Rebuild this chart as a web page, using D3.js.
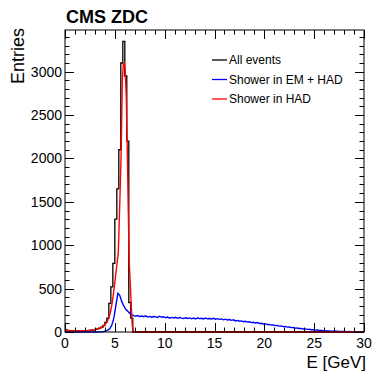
<!DOCTYPE html>
<html>
<head>
<meta charset="utf-8">
<script src="https://cdn.jsdelivr.net/npm/d3@7"></script>
<style>
  html, body { margin: 0; padding: 0; background: #fff; }
  svg { display: block; font-family: 'Liberation Sans', Arial, sans-serif; }
</style>
</head>
<body>
<div id="chart"></div>
<script>
// ── data ────────────────────────────────────────────────
const BIN_ALL = 0.2;   // GeV, black histogram
const BIN_HAD = 0.1;   // GeV, red
const BIN_EMH = 0.2;   // GeV, blue

// all events, 0 – 7 GeV, zero above
const allEvents = [
  25, 18, 14, 12, 12, 12, 12, 13, 13, 14,
  15, 16, 18, 21, 25, 30, 36, 44, 55, 75,
  110, 160, 330, 520, 790, 1300, 1650, 2100, 3100, 3350,
  2950, 2200, 340, 160, 0
];

// shower in HAD, 0 – 7 GeV, zero above
const showerHad = [
  38, 24, 18, 15, 14, 13, 12, 12, 12, 12,
  12, 12, 12, 13, 13, 13, 14, 14, 15, 15,
  16, 16, 17, 18, 19, 20, 22, 24, 26, 28,
  30, 33, 36, 40, 44, 48, 53, 60, 68, 78,
  90, 105, 125, 150, 180, 225, 280, 350, 430, 520,
  620, 720, 820, 920, 1300, 1700, 2150, 2900, 3080, 3100,
  3000, 2700, 2100, 1400, 800, 550, 300, 80, 0, 0
];

// shower in EM + HAD, 0 – 30 GeV
const showerEmHad = [
  0, 0, 0, 0, 0, 0, 0, 0, 0, 0,
  0, 0, 0, 0, 0, 0, 0,
  1, 3, 6, 12, 22, 40, 80, 160, 300, 445, 420, 350, 300, 262, 238, 215, 200, 188,
  182, 190, 178, 184, 176, 186, 172, 180, 170, 178, 174, 168, 182, 170, 176,
  164, 172, 160, 168, 162, 170, 158, 166, 160, 155,
  164, 156, 162, 152, 160, 150, 164, 154, 158, 150,
  160, 152, 156, 150, 158, 148, 154, 146, 150, 140,
  148, 138, 144, 134, 140, 128, 134, 124, 128, 118,
  124, 114, 118, 108, 112, 104, 110, 98, 100, 92,
  94, 86, 88, 80, 82, 74, 76, 68, 70, 62,
  64, 56, 58, 50, 52, 45, 46, 40, 41, 35,
  36, 30, 31, 26, 27, 22, 23, 18, 19, 15,
  16, 12, 13, 10, 10, 8, 8, 6, 7, 5,
  5, 4, 5, 3, 4, 3, 2, 3, 2, 2
];

const xTicks = [0, 5, 10, 15, 20, 25, 30];
const yTicks = [0, 500, 1000, 1500, 2000, 2500, 3000];

const legendItems = [
  { label: 'All events',         color: '#000000' },
  { label: 'Shower in EM + HAD', color: '#0000ff' },
  { label: 'Shower in HAD',      color: '#ff0000' }
];

// ── layout ──────────────────────────────────────────────
const W = 372, H = 374;
const M = { left: 65, right: 8, top: 30, bottom: 42 };
const E_MAX = 30;

const svg = d3.select('#chart').append('svg')
  .attr('width', W).attr('height', H);

const x = d3.scaleLinear().domain([0, E_MAX]).range([M.left, W - M.right]);
const y = d3.scaleLinear().domain([0, 3480]).range([H - M.bottom, M.top]);

// pad a histogram with empty bins up to E_MAX
function padBins(vals, bw) {
  const n = Math.round(E_MAX / bw);
  return d3.range(n).map(i => (i < vals.length ? vals[i] : 0));
}

const plot = svg.append('g');

// black: step outline
const allBins = padBins(allEvents, BIN_ALL);
const allPts = allBins.map((v, i) => [i * BIN_ALL, v]);
allPts.push([E_MAX, allBins[allBins.length - 1]]);
plot.append('path')
  .attr('d', d3.line().x(d => x(d[0])).y(d => y(d[1])).curve(d3.curveStepAfter)(allPts))
  .attr('fill', 'none').attr('stroke', '#000').attr('stroke-width', 1.3);

// blue / red: polyline through bin centres
function centreLine(vals, bw) {
  const pts = padBins(vals, bw).map((v, i) => [(i + 0.5) * bw, v]);
  return d3.line().x(d => x(d[0])).y(d => y(d[1]))(pts);
}
plot.append('path')
  .attr('d', centreLine(showerEmHad, BIN_EMH))
  .attr('fill', 'none').attr('stroke', '#0000ff').attr('stroke-width', 1.4);
plot.append('path')
  .attr('d', centreLine(showerHad, BIN_HAD))
  .attr('fill', 'none').attr('stroke', '#ff0000').attr('stroke-width', 1.4);

// ── frame + ROOT style ticks ────────────────────────────
const x0 = M.left, x1 = W - M.right, y0 = H - M.bottom, y1 = M.top;
svg.append('rect')
  .attr('x', x0).attr('y', y1).attr('width', x1 - x0).attr('height', y0 - y1)
  .attr('fill', 'none').attr('stroke', '#000').attr('stroke-width', 1);

const ticksG = svg.append('g').attr('stroke', '#000').attr('stroke-width', 1);
const MAJ = 9, MIN = 4.5;
d3.range(0, E_MAX + 0.001, 1).forEach(v => {
  const L = v % 5 === 0 ? MAJ : MIN;
  const px = Math.round(x(v)) + 0.5;
  ticksG.append('line').attr('x1', px).attr('x2', px).attr('y1', y0).attr('y2', y0 - L);
  ticksG.append('line').attr('x1', px).attr('x2', px).attr('y1', y1).attr('y2', y1 + L);
});
d3.range(0, 3401, 100).forEach(v => {
  const L = v % 500 === 0 ? MAJ : MIN;
  const py = Math.round(y(v)) + 0.5;
  ticksG.append('line').attr('y1', py).attr('y2', py).attr('x1', x0).attr('x2', x0 + L);
  ticksG.append('line').attr('y1', py).attr('y2', py).attr('x1', x1).attr('x2', x1 - L);
});

// tick labels
svg.append('g').selectAll('text').data(xTicks).join('text')
  .attr('x', d => x(d)).attr('y', y0 + 16)
  .attr('text-anchor', 'middle').attr('font-size', 14).attr('fill', '#000')
  .text(d => d);
svg.append('g').selectAll('text').data(yTicks).join('text')
  .attr('x', x0 - 3).attr('y', d => y(d) + 5)
  .attr('text-anchor', 'end').attr('font-size', 14).attr('fill', '#000')
  .text(d => d);

// axis titles
svg.append('text')
  .attr('x', x1 + 2).attr('y', 368)
  .attr('text-anchor', 'end').attr('font-size', 17).text('E [GeV]');
svg.append('text')
  .attr('transform', `translate(24, ${M.top - 2}) rotate(-90)`)
  .attr('text-anchor', 'end').attr('font-size', 18).text('Entries');

// title
svg.append('text')
  .attr('x', 66).attr('y', 23)
  .attr('font-size', 18).attr('font-weight', 'bold').text('CMS ZDC');

// ── legend ──────────────────────────────────────────────
const leg = svg.append('g');
legendItems.forEach((d, i) => {
  const ly = 60 + i * 19.5;
  leg.append('line')
    .attr('x1', 212).attr('x2', 227).attr('y1', ly).attr('y2', ly)
    .attr('stroke', d.color).attr('stroke-width', 1.3);
  leg.append('text')
    .attr('x', 229).attr('y', ly + 4.3)
    .attr('font-size', 12).text(d.label);
});
</script>
</body>
</html>
